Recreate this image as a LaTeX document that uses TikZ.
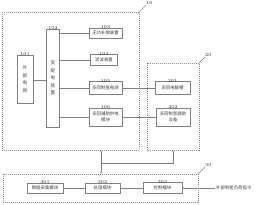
\documentclass[tikz,border=0pt]{standalone}
\usepackage{fontspec}
\newfontfamily\cjk{Noto Sans CJK SC}
\usetikzlibrary{arrows.meta}
\begin{document}
\begin{tikzpicture}[x=1pt,y=-1pt,
  box/.style={draw=black!50, line width=0.4pt, fill=white, inner sep=0pt,
    font=\cjk\fontsize{4.4}{5.6}\selectfont, text=black!75, align=center},
  grp/.style={draw=black!45, line width=0.4pt, dash pattern=on 1pt off 1pt},
  lbl/.style={font=\fontsize{4.5}{4.5}\selectfont, text=black!85, inner sep=0pt},
  conn/.style={draw=black!50, line width=0.4pt},
  tip/.style={-{Latex[length=2pt,width=1.6pt]}}]
\useasboundingbox (0,0) rectangle (260,205);
% groups
\draw[grp] (2,12) rectangle (139.5,150);
\draw[grp] (147,63) rectangle (199,150);
\draw[grp] (3,174) rectangle (198,202);
% group labels
\coordinate (g10a) at (139.5,12); \coordinate (g10b) at (146,5);
\coordinate (g20a) at (199,63);   \coordinate (g20b) at (205,57);
\coordinate (g30a) at (198,174);  \coordinate (g30b) at (205,167);
\draw[conn] (g10a) -- (g10b); \node[lbl, anchor=south west] (l10) at (g10b) {10};
\draw[conn] (g20a) -- (g20b); \node[lbl, anchor=south west] (l20) at (g20b) {20};
\draw[conn] (g30a) -- (g30b); \node[lbl, anchor=south west] (l30) at (g30b) {30};
% boxes
\node[box, minimum width=16pt, minimum height=48pt, font=\cjk\fontsize{4.6}{7.5}\selectfont] (b101) at (25,79) {外\\部\\电\\网};
\node[box, minimum width=13pt, minimum height=98pt, font=\cjk\fontsize{4.6}{7.5}\selectfont] (b102) at (53,78) {变\\配\\电\\装\\置};
\node[box, minimum width=33pt, minimum height=10pt] (b103) at (105.5,33) {无功补偿装置};
\node[box, minimum width=27pt, minimum height=11pt] (b104) at (104,60) {滤波装置};
\node[box, minimum width=33pt, minimum height=13pt] (b105) at (105.5,88) {多回制氢电源};
\node[box, minimum width=33pt, minimum height=18pt] (b106) at (105.5,117) {多回辅助供电\\模块};
\node[box, minimum width=35pt, minimum height=13pt] (b201) at (172.5,88) {多回电解槽};
\node[box, minimum width=34pt, minimum height=18pt] (b202) at (173,117) {多回制氢辅助\\设备};
\node[box, minimum width=36pt, minimum height=10pt] (b301) at (45,188) {数据采集模块};
\node[box, minimum width=35pt, minimum height=10pt] (b302) at (102.5,188) {处理模块};
\node[box, minimum width=39pt, minimum height=11pt] (b303) at (162.5,188) {控制模块};
\node[box, draw=none, fill=none, anchor=west, inner sep=1pt] (ext) at (215,188) {外部制氢负荷指令};
% number labels
\foreach \n in {101,102,103,104,105,106,201,202,301,302,303}
  \node[lbl, anchor=south] (n\n) at ([yshift=-1.5pt]b\n.north) {\n};
% connectors
\draw[conn] (b101.east |- 0,80) -- (b102.west |- 0,80);
\draw[conn] (b102.east |- b103) -- (b103.west);
\draw[conn] (b102.east |- b104) -- (b104.west);
\draw[conn] (b102.east |- b105) -- (b105.west);
\draw[conn] (b102.east |- b106) -- (b106.west);
\draw[conn] (b105.east) -- (b201.west);
\draw[conn] (b106.east) -- (b202.west);
\draw[conn] (b301.east) -- (b302.west);
\draw[conn] (b302.east) -- (b303.west);
\draw[conn, tip] (ext.west) -- (b303.east);
\coordinate (a10) at (101,150);
\coordinate (a30) at (101,174);
\coordinate (jn) at (101,163);
\coordinate (a20) at (173,150);
\draw[conn, {Latex[length=2pt,width=1.6pt]}-{Latex[length=2pt,width=1.6pt]}] (a10) -- (a30);
\draw[conn, tip] (jn) -| (a20);
\end{tikzpicture}
\end{document}
